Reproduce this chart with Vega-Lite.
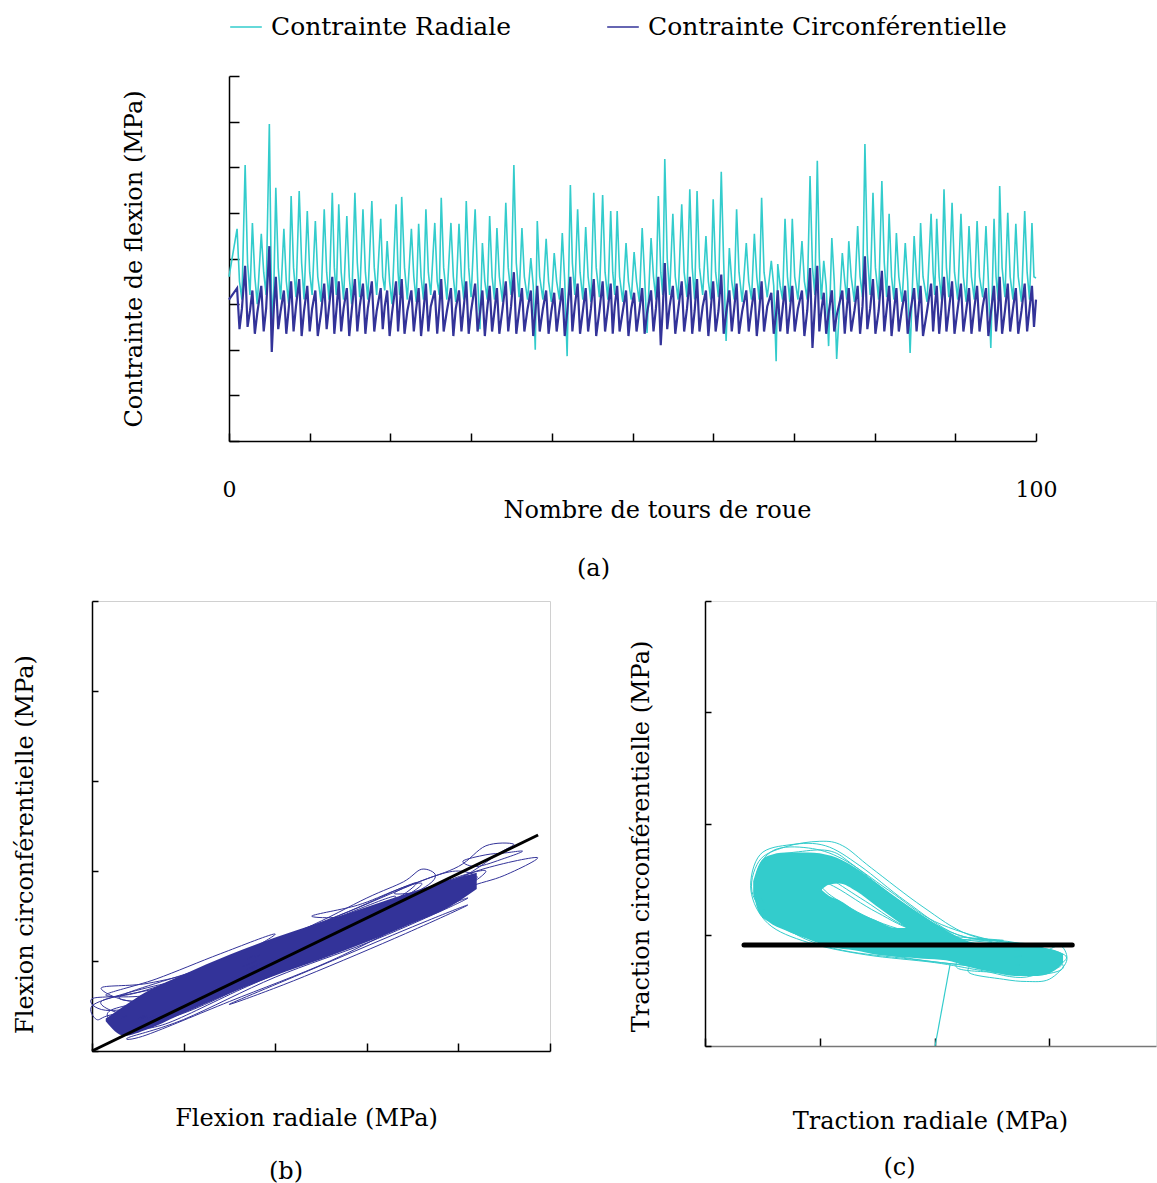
{
  "$schema": "https://vega.github.io/schema/vega-lite/v6.json",
  "padding": {"left": 12, "top": 10, "right": 0, "bottom": 0},
  "spacing": 18,
  "resolve": {"scale": {"x": "independent", "y": "independent", "color": "independent"}, "legend": {"color": "independent"}},
  "config": {
    "font": "DejaVu Serif",
    "view": {"stroke": null},
    "axis": {"labelFont": "DejaVu Serif", "titleFont": "DejaVu Serif", "titleFontWeight": "normal", "titleFontSize": 24, "labelFontSize": 22, "labelColor": "#000", "titleColor": "#000", "domainColor": "#000", "tickColor": "#000", "grid": false, "domainWidth": 1.5, "tickWidth": 1.5},
    "title": {"font": "DejaVu Serif", "fontSize": 24, "fontWeight": "normal", "color": "#000", "anchor": "middle"}
  },
  "vconcat": [
    {
      "spacing": 20,
      "resolve": {"scale": {"color": "independent"}, "legend": {"color": "independent"}},
      "hconcat": [
        {"width": 10, "height": 10, "data": {"values": [{}]}, "mark": {"type": "rule", "opacity": 0}, "encoding": {}},
        {
          "width": 807, "height": 365,
          "title": {"text": "(a)", "orient": "bottom", "offset": 35, "dx": -39},
          "data": {"values": [
{"t":0,"r":3.6,"c":3.1},
{"t":1.0,"r":4.65,"c":3.35},{"t":1.3,"r":3.5,"c":2.45},{"t":1.6,"r":3.1,"c":2.9},
{"t":2.0,"r":6.05,"c":3.84},{"t":2.3,"r":3.9,"c":2.5},{"t":2.6,"r":3.2,"c":2.85},
{"t":2.9,"r":4.78,"c":3.3},{"t":3.2,"r":3.6,"c":2.35},{"t":3.5,"r":3.0,"c":2.8},
{"t":4.0,"r":4.54,"c":3.4},{"t":4.3,"r":3.7,"c":2.4},{"t":4.6,"r":3.2,"c":2.9},
{"t":5.0,"r":6.95,"c":4.27},{"t":5.3,"r":2.6,"c":1.95},{"t":5.55,"r":3.3,"c":2.9},
{"t":5.8,"r":5.55,"c":3.6},{"t":6.1,"r":3.8,"c":2.45},{"t":6.4,"r":3.1,"c":2.85},
{"t":6.8,"r":4.65,"c":3.3},{"t":7.1,"r":3.5,"c":2.35},{"t":7.4,"r":3.0,"c":2.9},
{"t":7.7,"r":5.37,"c":3.5},{"t":8.0,"r":3.8,"c":2.4},{"t":8.3,"r":3.15,"c":2.95},
{"t":8.7,"r":5.48,"c":3.55},{"t":9.0,"r":3.9,"c":2.3},{"t":9.3,"r":3.1,"c":2.85},
{"t":9.7,"r":5.04,"c":3.4},{"t":10.0,"r":3.7,"c":2.4},{"t":10.3,"r":3.2,"c":2.9},
{"t":10.7,"r":4.82,"c":3.3},{"t":11.0,"r":3.6,"c":2.3},{"t":11.4,"r":3.05,"c":2.8},
{"t":11.8,"r":5.08,"c":3.45},{"t":12.1,"r":3.7,"c":2.45},{"t":12.4,"r":3.1,"c":2.95},
{"t":12.8,"r":5.44,"c":3.6},{"t":13.05,"r":3.8,"c":2.35},{"t":13.3,"r":3.2,"c":2.85},
{"t":13.6,"r":5.19,"c":3.5},{"t":13.9,"r":3.7,"c":2.4},{"t":14.2,"r":3.1,"c":2.9},
{"t":14.6,"r":4.93,"c":3.35},{"t":14.9,"r":3.6,"c":2.3},{"t":15.2,"r":3.0,"c":2.85},
{"t":15.6,"r":5.44,"c":3.55},{"t":15.9,"r":3.9,"c":2.4},{"t":16.2,"r":3.15,"c":2.95},
{"t":16.6,"r":5.08,"c":3.45},{"t":16.9,"r":3.7,"c":2.35},{"t":17.2,"r":3.1,"c":2.9},
{"t":17.7,"r":5.26,"c":3.5},{"t":18.0,"r":3.8,"c":2.4},{"t":18.3,"r":3.2,"c":2.85},
{"t":18.8,"r":4.87,"c":3.35},{"t":19.05,"r":3.6,"c":2.45},{"t":19.3,"r":3.3,"c":2.95},
{"t":19.6,"r":4.38,"c":3.3},{"t":19.9,"r":3.5,"c":2.3},{"t":20.2,"r":3.0,"c":2.8},
{"t":20.7,"r":5.19,"c":3.5},{"t":20.95,"r":3.7,"c":2.4},{"t":21.15,"r":3.2,"c":2.9},
{"t":21.4,"r":5.35,"c":3.55},{"t":21.75,"r":3.8,"c":2.35},{"t":22.1,"r":3.1,"c":2.85},
{"t":22.6,"r":4.65,"c":3.3},{"t":22.9,"r":3.6,"c":2.4},{"t":23.2,"r":3.05,"c":2.9},
{"t":23.5,"r":4.76,"c":3.35},{"t":23.8,"r":3.6,"c":2.3},{"t":24.1,"r":3.1,"c":2.85},
{"t":24.4,"r":5.08,"c":3.45},{"t":24.7,"r":3.7,"c":2.4},{"t":25.0,"r":3.2,"c":2.95},
{"t":25.5,"r":4.78,"c":3.3},{"t":25.8,"r":3.5,"c":2.35},{"t":26.05,"r":3.2,"c":2.9},
{"t":26.3,"r":5.33,"c":3.55},{"t":26.6,"r":3.8,"c":2.4},{"t":27.0,"r":3.1,"c":2.85},
{"t":27.5,"r":4.78,"c":3.35},{"t":27.8,"r":3.6,"c":2.3},{"t":28.1,"r":3.05,"c":2.9},
{"t":28.5,"r":4.76,"c":3.3},{"t":28.8,"r":3.6,"c":2.4},{"t":29.1,"r":3.1,"c":2.95},
{"t":29.4,"r":5.26,"c":3.5},{"t":29.7,"r":3.8,"c":2.35},{"t":30.0,"r":3.15,"c":2.85},
{"t":30.5,"r":5.08,"c":3.45},{"t":30.8,"r":3.6,"c":2.4},{"t":31.1,"r":2.45,"c":2.8},
{"t":31.4,"r":4.34,"c":3.3},{"t":31.7,"r":3.5,"c":2.3},{"t":32.0,"r":3.1,"c":2.9},
{"t":32.3,"r":4.93,"c":3.4},{"t":32.6,"r":3.6,"c":2.4},{"t":32.9,"r":3.1,"c":2.85},
{"t":33.2,"r":4.67,"c":3.35},{"t":33.5,"r":3.6,"c":2.35},{"t":33.9,"r":3.05,"c":2.9},
{"t":34.3,"r":5.22,"c":3.5},{"t":34.6,"r":3.8,"c":2.4},{"t":34.95,"r":3.2,"c":2.95},
{"t":35.3,"r":6.05,"c":3.7},{"t":35.6,"r":3.9,"c":2.35},{"t":35.95,"r":3.15,"c":2.85},
{"t":36.3,"r":4.67,"c":3.35},{"t":36.6,"r":3.6,"c":2.4},{"t":37.0,"r":3.1,"c":2.9},
{"t":37.4,"r":4.01,"c":3.3},{"t":37.7,"r":3.4,"c":2.3},{"t":37.95,"r":2.0,"c":2.8},
{"t":38.2,"r":4.82,"c":3.4},{"t":38.5,"r":3.6,"c":2.4},{"t":38.9,"r":3.1,"c":2.9},
{"t":39.3,"r":4.43,"c":3.3},{"t":39.6,"r":3.5,"c":2.35},{"t":39.95,"r":3.05,"c":2.85},
{"t":40.3,"r":4.12,"c":3.25},{"t":40.6,"r":3.5,"c":2.4},{"t":40.95,"r":3.1,"c":2.9},
{"t":41.3,"r":4.56,"c":3.35},{"t":41.6,"r":3.5,"c":2.3},{"t":41.9,"r":1.86,"c":2.8},
{"t":42.3,"r":5.61,"c":3.6},{"t":42.55,"r":3.9,"c":2.4},{"t":42.85,"r":3.2,"c":2.95},
{"t":43.2,"r":5.08,"c":3.45},{"t":43.5,"r":3.7,"c":2.35},{"t":43.85,"r":3.1,"c":2.85},
{"t":44.2,"r":4.69,"c":3.35},{"t":44.5,"r":3.6,"c":2.4},{"t":44.85,"r":3.05,"c":2.9},
{"t":45.2,"r":5.44,"c":3.55},{"t":45.5,"r":3.8,"c":2.3},{"t":45.9,"r":3.15,"c":2.85},
{"t":46.3,"r":5.39,"c":3.5},{"t":46.6,"r":3.7,"c":2.4},{"t":46.95,"r":3.1,"c":2.9},
{"t":47.3,"r":5.04,"c":3.45},{"t":47.55,"r":3.7,"c":2.35},{"t":47.8,"r":3.2,"c":2.95},
{"t":48.1,"r":5.04,"c":3.4},{"t":48.4,"r":3.6,"c":2.4},{"t":48.8,"r":3.05,"c":2.85},
{"t":49.2,"r":4.34,"c":3.3},{"t":49.5,"r":3.5,"c":2.3},{"t":49.85,"r":3.1,"c":2.9},
{"t":50.2,"r":4.14,"c":3.25},{"t":50.5,"r":3.5,"c":2.4},{"t":50.85,"r":3.05,"c":2.85},
{"t":51.2,"r":4.67,"c":3.35},{"t":51.5,"r":3.6,"c":2.35},{"t":51.8,"r":2.37,"c":2.8},
{"t":52.3,"r":4.45,"c":3.3},{"t":52.6,"r":3.6,"c":2.4},{"t":52.9,"r":3.1,"c":2.9},
{"t":53.2,"r":5.37,"c":3.6},{"t":53.5,"r":3.7,"c":2.1},{"t":53.75,"r":3.2,"c":2.9},
{"t":54.0,"r":6.18,"c":3.9},{"t":54.3,"r":4.0,"c":2.45},{"t":54.6,"r":3.2,"c":2.95},
{"t":55.0,"r":4.98,"c":3.4},{"t":55.3,"r":3.6,"c":2.35},{"t":55.65,"r":3.1,"c":2.85},
{"t":56.1,"r":5.19,"c":3.5},{"t":56.4,"r":3.7,"c":2.4},{"t":56.75,"r":3.15,"c":2.9},
{"t":57.1,"r":5.52,"c":3.6},{"t":57.4,"r":3.8,"c":2.35},{"t":57.7,"r":3.1,"c":2.85},
{"t":58.0,"r":5.48,"c":3.55},{"t":58.3,"r":3.8,"c":2.4},{"t":58.7,"r":3.2,"c":2.95},
{"t":59.1,"r":4.49,"c":3.3},{"t":59.4,"r":3.5,"c":2.3},{"t":59.7,"r":3.1,"c":2.9},
{"t":60.0,"r":5.3,"c":3.5},{"t":60.3,"r":3.7,"c":2.4},{"t":60.65,"r":3.15,"c":2.85},
{"t":61.0,"r":5.9,"c":3.65},{"t":61.3,"r":3.9,"c":2.35},{"t":61.6,"r":2.19,"c":2.8},
{"t":62.0,"r":4.23,"c":3.3},{"t":62.3,"r":3.5,"c":2.4},{"t":62.6,"r":3.1,"c":2.9},
{"t":62.9,"r":5.08,"c":3.45},{"t":63.2,"r":3.7,"c":2.35},{"t":63.6,"r":3.05,"c":2.85},
{"t":64.1,"r":4.34,"c":3.3},{"t":64.4,"r":3.5,"c":2.4},{"t":64.75,"r":3.1,"c":2.9},
{"t":65.1,"r":4.54,"c":3.35},{"t":65.4,"r":3.6,"c":2.3},{"t":65.7,"r":3.1,"c":2.85},
{"t":66.0,"r":5.33,"c":3.5},{"t":66.3,"r":3.7,"c":2.4},{"t":66.7,"r":3.15,"c":2.95},
{"t":67.2,"r":3.95,"c":3.25},{"t":67.5,"r":3.4,"c":2.35},{"t":67.8,"r":1.75,"c":2.8},
{"t":68.0,"r":3.88,"c":3.3},{"t":68.3,"r":3.4,"c":2.4},{"t":68.6,"r":3.1,"c":2.9},
{"t":68.9,"r":4.87,"c":3.4},{"t":69.2,"r":3.6,"c":2.35},{"t":69.5,"r":3.05,"c":2.85},
{"t":69.8,"r":4.87,"c":3.4},{"t":70.1,"r":3.6,"c":2.4},{"t":70.5,"r":3.1,"c":2.9},
{"t":71.0,"r":4.38,"c":3.3},{"t":71.3,"r":3.5,"c":2.3},{"t":71.65,"r":3.1,"c":2.85},
{"t":72.0,"r":5.81,"c":3.79},{"t":72.3,"r":3.8,"c":2.04},{"t":72.6,"r":3.2,"c":2.95},
{"t":72.9,"r":6.14,"c":3.84},{"t":73.15,"r":4.0,"c":2.4},{"t":73.4,"r":3.1,"c":2.85},
{"t":73.7,"r":3.95,"c":3.25},{"t":74.0,"r":3.4,"c":2.35},{"t":74.3,"r":2.08,"c":2.8},
{"t":74.7,"r":4.45,"c":3.3},{"t":75.0,"r":3.5,"c":2.4},{"t":75.3,"r":1.8,"c":2.75},
{"t":76.0,"r":4.12,"c":3.3},{"t":76.3,"r":3.5,"c":2.35},{"t":76.55,"r":3.1,"c":2.9},
{"t":76.8,"r":4.38,"c":3.35},{"t":77.1,"r":3.6,"c":2.4},{"t":77.5,"r":3.05,"c":2.85},
{"t":77.9,"r":4.71,"c":3.4},{"t":78.2,"r":3.6,"c":2.35},{"t":78.5,"r":3.15,"c":2.95},
{"t":78.8,"r":6.51,"c":4.05},{"t":79.1,"r":4.1,"c":2.45},{"t":79.45,"r":3.2,"c":2.9},
{"t":79.8,"r":5.44,"c":3.55},{"t":80.1,"r":3.8,"c":2.35},{"t":80.5,"r":3.1,"c":2.85},
{"t":80.9,"r":5.7,"c":3.73},{"t":81.2,"r":3.9,"c":2.4},{"t":81.5,"r":3.15,"c":2.9},
{"t":81.8,"r":4.98,"c":3.4},{"t":82.1,"r":3.6,"c":2.3},{"t":82.4,"r":3.1,"c":2.85},
{"t":82.7,"r":4.56,"c":3.35},{"t":83.0,"r":3.6,"c":2.4},{"t":83.4,"r":3.05,"c":2.9},
{"t":83.8,"r":4.34,"c":3.3},{"t":84.1,"r":3.5,"c":2.35},{"t":84.4,"r":1.93,"c":2.8},
{"t":84.9,"r":4.49,"c":3.35},{"t":85.2,"r":3.6,"c":2.4},{"t":85.45,"r":3.1,"c":2.9},
{"t":85.7,"r":4.78,"c":3.4},{"t":86.0,"r":3.6,"c":2.3},{"t":86.5,"r":3.05,"c":2.85},
{"t":87.0,"r":4.98,"c":3.45},{"t":87.25,"r":3.7,"c":2.4},{"t":87.45,"r":3.2,"c":2.9},
{"t":87.7,"r":4.87,"c":3.4},{"t":88.0,"r":3.6,"c":2.35},{"t":88.3,"r":3.1,"c":2.95},
{"t":88.6,"r":5.52,"c":3.6},{"t":88.9,"r":3.8,"c":2.4},{"t":89.2,"r":3.15,"c":2.85},
{"t":89.6,"r":5.22,"c":3.5},{"t":89.9,"r":3.7,"c":2.35},{"t":90.3,"r":3.1,"c":2.9},
{"t":90.7,"r":4.98,"c":3.45},{"t":91.0,"r":3.6,"c":2.4},{"t":91.35,"r":3.05,"c":2.85},
{"t":91.7,"r":4.71,"c":3.35},{"t":92.0,"r":3.6,"c":2.35},{"t":92.35,"r":3.1,"c":2.9},
{"t":92.7,"r":4.82,"c":3.4},{"t":93.0,"r":3.6,"c":2.4},{"t":93.4,"r":3.15,"c":2.95},
{"t":93.8,"r":4.71,"c":3.35},{"t":94.1,"r":3.5,"c":2.3},{"t":94.4,"r":2.04,"c":2.8},
{"t":94.8,"r":4.87,"c":3.4},{"t":95.05,"r":3.6,"c":2.4},{"t":95.3,"r":3.1,"c":2.9},
{"t":95.5,"r":5.59,"c":3.6},{"t":95.8,"r":3.8,"c":2.35},{"t":96.15,"r":3.15,"c":2.85},
{"t":96.5,"r":5.0,"c":3.45},{"t":96.8,"r":3.6,"c":2.4},{"t":97.15,"r":3.1,"c":2.9},
{"t":97.5,"r":4.76,"c":3.35},{"t":97.8,"r":3.6,"c":2.35},{"t":98.2,"r":3.05,"c":2.85},
{"t":98.6,"r":5.04,"c":3.45},{"t":98.9,"r":3.7,"c":2.4},{"t":99.2,"r":3.1,"c":2.9},
{"t":99.5,"r":4.78,"c":3.4},{"t":99.75,"r":3.6,"c":2.5},{"t":100,"r":3.57,"c":3.1}
          ]},
          "encoding": {
            "x": {"field": "t", "type": "quantitative", "scale": {"domain": [0, 100], "nice": false},
              "axis": {"values": [0,10,20,30,40,50,60,70,80,90,100], "labelExpr": "datum.value == 0 || datum.value == 100 ? datum.label : ''", "tickSize": -8, "labelPadding": 46, "labelFlush": false, "title": "Nombre de tours de roue", "titlePadding": -2, "titleX": 428}}
          },
          "layer": [
            {"mark": {"type": "line", "strokeWidth": 1.6},
             "encoding": {
               "y": {"field": "r", "type": "quantitative", "scale": {"domain": [0, 8], "nice": false},
                 "axis": {"values": [0,1,2,3,4,5,6,7,8], "labels": false, "tickSize": -10, "title": "Contrainte de flexion (MPa)", "titlePadding": 82}},
               "color": {"datum": "Contrainte Radiale", "type": "nominal",
                 "scale": {"domain": ["Contrainte Radiale", "Contrainte Circonférentielle"], "range": ["#33CCCC", "#333399"]},
                 "legend": {"orient": "top", "direction": "horizontal", "title": null, "symbolType": "stroke", "symbolSize": 1000, "symbolStrokeWidth": 1.5, "labelFontSize": 25, "labelFont": "DejaVu Serif", "labelColor": "#000", "labelLimit": 0, "columnPadding": 92, "labelOffset": 8, "offset": 36}}
             }},
            {"mark": {"type": "line", "strokeWidth": 2.2},
             "encoding": {
               "y": {"field": "c", "type": "quantitative"},
               "color": {"datum": "Contrainte Circonférentielle", "type": "nominal"}
             }}
          ]
        }
      ]
    },
    {
      "spacing": 76,
      "resolve": {"scale": {"x": "independent", "y": "independent"}},
      "hconcat": [
        {
          "width": 458, "height": 450,
          "view": {"stroke": "#d0d0d0"},
          "title": {"text": "(b)", "orient": "bottom", "offset": 29, "dx": -35},
          "layer": [
            {"data": {"values": [
              {"x":0.15,"lo":0.33,"hi":0.36},{"x":0.35,"lo":0.17,"hi":0.5},{"x":0.6,"lo":0.24,"hi":0.66},{"x":1.0,"lo":0.42,"hi":0.85},
              {"x":1.5,"lo":0.64,"hi":1.07},{"x":2.0,"lo":0.84,"hi":1.26},{"x":2.5,"lo":1.02,"hi":1.43},
              {"x":3.0,"lo":1.21,"hi":1.6},{"x":3.5,"lo":1.42,"hi":1.77},{"x":3.9,"lo":1.6,"hi":1.9},{"x":4.2,"lo":1.8,"hi":1.98}
             ]},
             "mark": {"type": "area", "orient": "vertical", "color": "#333399", "interpolate": "monotone"},
             "encoding": {
               "x": {"field": "x", "type": "quantitative", "scale": {"domain": [0, 5], "nice": false},
                 "axis": {"values": [0,1,2,3,4,5], "labels": false, "tickSize": -8, "title": "Flexion radiale (MPa)", "titlePadding": 55, "titleX": 214}},
               "y": {"field": "lo", "type": "quantitative", "scale": {"domain": [0, 5], "nice": false},
                 "axis": {"values": [0,1,2,3,4,5], "labels": false, "tickSize": -6, "title": "Flexion circonférentielle (MPa)", "titlePadding": 54, "titleY": 243}},
               "y2": {"field": "hi"}
             }},
            {"data": {"values": [
              {"id":1,"x":0.2,"y":0.45},{"id":1,"x":0.8,"y":0.62},{"id":1,"x":1.6,"y":0.98},{"id":1,"x":2.3,"y":1.3},{"id":1,"x":2.6,"y":1.38},{"id":1,"x":2.4,"y":1.2},{"id":1,"x":1.6,"y":0.85},{"id":1,"x":0.8,"y":0.48},{"id":1,"x":0.3,"y":0.32},
              {"id":2,"x":0.1,"y":0.55},{"id":2,"x":0.9,"y":0.75},{"id":2,"x":1.8,"y":1.15},{"id":2,"x":2.8,"y":1.55},{"id":2,"x":3.4,"y":1.82},{"id":2,"x":3.6,"y":1.85},{"id":2,"x":3.3,"y":1.65},{"id":2,"x":2.5,"y":1.25},{"id":2,"x":1.5,"y":0.8},{"id":2,"x":0.6,"y":0.4},
              {"id":3,"x":0.4,"y":0.5},{"id":3,"x":1.4,"y":0.98},{"id":3,"x":2.5,"y":1.42},{"id":3,"x":3.5,"y":1.85},{"id":3,"x":4.0,"y":2.05},{"id":3,"x":4.3,"y":2.28},{"id":3,"x":4.6,"y":2.3},{"id":3,"x":4.45,"y":2.2},{"id":3,"x":3.9,"y":1.85},{"id":3,"x":2.9,"y":1.42},{"id":3,"x":1.8,"y":0.95},{"id":3,"x":0.8,"y":0.45},
              {"id":4,"x":0.2,"y":0.3},{"id":4,"x":1.2,"y":0.75},{"id":4,"x":2.4,"y":1.25},{"id":4,"x":3.5,"y":1.7},{"id":4,"x":4.2,"y":2.0},{"id":4,"x":4.86,"y":2.15},{"id":4,"x":4.5,"y":1.95},{"id":4,"x":4.05,"y":1.8},{"id":4,"x":3.2,"y":1.45},{"id":4,"x":2.0,"y":0.95},{"id":4,"x":0.9,"y":0.45},
              {"id":5,"x":0.3,"y":0.6},{"id":5,"x":1.3,"y":0.95},{"id":5,"x":2.3,"y":1.35},{"id":5,"x":3.0,"y":1.7},{"id":5,"x":3.4,"y":1.88},{"id":5,"x":3.6,"y":2.02},{"id":5,"x":3.75,"y":1.95},{"id":5,"x":3.6,"y":1.8},{"id":5,"x":3.0,"y":1.5},{"id":5,"x":2.0,"y":1.05},{"id":5,"x":1.0,"y":0.6},
              {"id":6,"x":0.0,"y":0.5},{"id":6,"x":0.3,"y":0.62},{"id":6,"x":0.8,"y":0.75},{"id":6,"x":1.3,"y":0.85},{"id":6,"x":1.6,"y":0.88},{"id":6,"x":1.2,"y":0.7},{"id":6,"x":0.7,"y":0.5},{"id":6,"x":0.2,"y":0.4},{"id":6,"x":0.05,"y":0.35},
              {"id":7,"x":0.1,"y":0.7},{"id":7,"x":0.6,"y":0.75},{"id":7,"x":1.2,"y":0.9},{"id":7,"x":2.0,"y":1.2},{"id":7,"x":2.3,"y":1.28},{"id":7,"x":1.9,"y":1.1},{"id":7,"x":1.2,"y":0.75},{"id":7,"x":0.5,"y":0.55},
              {"id":8,"x":0.4,"y":0.15},{"id":8,"x":1.0,"y":0.35},{"id":8,"x":2.0,"y":0.82},{"id":8,"x":3.0,"y":1.2},{"id":8,"x":3.8,"y":1.55},{"id":8,"x":4.1,"y":1.7},{"id":8,"x":3.6,"y":1.5},{"id":8,"x":2.6,"y":1.0},{"id":8,"x":1.5,"y":0.55},{"id":8,"x":0.6,"y":0.18},
              {"id":9,"x":0.3,"y":0.25},{"id":9,"x":1.1,"y":0.6},{"id":9,"x":2.1,"y":1.1},{"id":9,"x":3.1,"y":1.55},{"id":9,"x":3.9,"y":1.9},{"id":9,"x":4.3,"y":2.0},{"id":9,"x":3.95,"y":1.75},{"id":9,"x":3.0,"y":1.3},{"id":9,"x":2.0,"y":0.88},{"id":9,"x":1.0,"y":0.42},
              {"id":10,"x":0.0,"y":0.58},{"id":10,"x":0.5,"y":0.65},{"id":10,"x":1.5,"y":1.0},{"id":10,"x":2.6,"y":1.45},{"id":10,"x":3.3,"y":1.72},{"id":10,"x":3.0,"y":1.5},{"id":10,"x":2.1,"y":1.1},{"id":10,"x":1.0,"y":0.6},{"id":10,"x":0.2,"y":0.45},
              {"id":11,"x":4.05,"y":2.11},{"id":11,"x":4.3,"y":2.18},{"id":11,"x":4.5,"y":2.2},{"id":11,"x":4.7,"y":2.22},{"id":11,"x":4.5,"y":2.14},{"id":11,"x":4.2,"y":2.05},
              {"id":12,"x":0.5,"y":0.3},{"id":12,"x":1.5,"y":0.8},{"id":12,"x":2.5,"y":1.22},{"id":12,"x":3.4,"y":1.6},{"id":12,"x":3.9,"y":1.85},{"id":12,"x":3.6,"y":1.6},{"id":12,"x":2.8,"y":1.2},{"id":12,"x":1.7,"y":0.72},{"id":12,"x":0.8,"y":0.3},
              {"id":13,"x":2.4,"y":1.5},{"id":13,"x":2.9,"y":1.62},{"id":13,"x":3.3,"y":1.78},{"id":13,"x":3.55,"y":1.87},{"id":13,"x":3.3,"y":1.68},{"id":13,"x":2.8,"y":1.5},
              {"id":14,"x":0.15,"y":0.62},{"id":14,"x":0.7,"y":0.8},{"id":14,"x":1.4,"y":1.08},{"id":14,"x":2.0,"y":1.3},{"id":14,"x":1.5,"y":1.0},{"id":14,"x":0.8,"y":0.65},
              {"id":15,"x":1.5,"y":0.52},{"id":15,"x":2.5,"y":0.95},{"id":15,"x":3.5,"y":1.38},{"id":15,"x":4.1,"y":1.62},{"id":15,"x":3.3,"y":1.25},{"id":15,"x":2.2,"y":0.78},
              {"id":16,"x":3.3,"y":1.75},{"id":16,"x":3.7,"y":1.93},{"id":16,"x":4.0,"y":2.0},{"id":16,"x":4.2,"y":1.92},{"id":16,"x":3.8,"y":1.8}
             ]},
             "mark": {"type": "line", "interpolate": "cardinal-closed", "strokeWidth": 1, "color": "#333399"},
             "encoding": {
               "x": {"field": "x", "type": "quantitative"},
               "y": {"field": "y", "type": "quantitative"},
               "detail": {"field": "id", "type": "nominal"},
               "order": {"value": null}
             }},
            {"data": {"values": [{"x":0,"y":0},{"x":4.87,"y":2.4}]},
             "mark": {"type": "line", "color": "#000", "strokeWidth": 3},
             "encoding": {"x": {"field": "x", "type": "quantitative"}, "y": {"field": "y", "type": "quantitative"}}}
          ]
        },
        {
          "width": 451, "height": 445,
          "view": {"stroke": "#e0e0e0"},
          "title": {"text": "(c)", "orient": "bottom", "offset": 22, "dx": -31},
          "layer": [
            {"data": {"values": [
              {"x":0.42,"lo":1.37,"hi":1.48},{"x":0.47,"lo":1.2,"hi":1.63},{"x":0.55,"lo":1.12,"hi":1.71},{"x":0.7,"lo":1.04,"hi":1.74},
              {"x":0.9,"lo":0.96,"hi":1.74},{"x":1.1,"lo":0.89,"hi":1.71},{"x":1.3,"lo":0.86,"hi":1.61},{"x":1.5,"lo":0.82,"hi":1.46},
              {"x":1.7,"lo":0.8,"hi":1.31},{"x":1.9,"lo":0.785,"hi":1.17},{"x":2.1,"lo":0.77,"hi":1.04},{"x":2.3,"lo":0.71,"hi":0.94},
              {"x":2.5,"lo":0.665,"hi":0.91},{"x":2.7,"lo":0.63,"hi":0.9},{"x":2.9,"lo":0.63,"hi":0.89},{"x":3.05,"lo":0.68,"hi":0.86},{"x":3.12,"lo":0.75,"hi":0.83}
             ]},
             "mark": {"type": "area", "orient": "vertical", "color": "#33CCCC", "interpolate": "monotone"},
             "encoding": {
               "x": {"field": "x", "type": "quantitative", "scale": {"domain": [0, 3.93], "nice": false},
                 "axis": {"values": [0,1,2,3], "labels": false, "tickSize": -8, "domainColor": "#777", "title": "Traction radiale (MPa)", "titlePadding": 63, "titleX": 225}},
               "y": {"field": "lo", "type": "quantitative", "scale": {"domain": [0, 4], "nice": false},
                 "axis": {"values": [0,1,2,3,4], "labels": false, "tickSize": -6, "title": "Traction circonférentielle (MPa)", "titlePadding": 51, "titleY": 235}},
               "y2": {"field": "hi"}
             }},
            {"data": {"values": [
              {"x":1.02,"lo":1.4,"hi":1.41},{"x":1.08,"lo":1.35,"hi":1.45},{"x":1.17,"lo":1.31,"hi":1.46},{"x":1.32,"lo":1.21,"hi":1.39},
              {"x":1.49,"lo":1.13,"hi":1.26},{"x":1.665,"lo":1.06,"hi":1.13},{"x":1.75,"lo":1.06,"hi":1.065}
             ]},
             "mark": {"type": "area", "orient": "vertical", "color": "#ffffff", "interpolate": "monotone"},
             "encoding": {"x": {"field": "x", "type": "quantitative"}, "y": {"field": "lo", "type": "quantitative"}, "y2": {"field": "hi"}}},
            {"data": {"values": [
              {"id":1,"x":3.15,"y":0.8},{"id":1,"x":2.8,"y":0.62},{"id":1,"x":2.4,"y":0.68},{"id":1,"x":2.0,"y":0.75},{"id":1,"x":1.4,"y":0.82},{"id":1,"x":0.9,"y":0.93},{"id":1,"x":0.55,"y":1.1},{"id":1,"x":0.4,"y":1.4},{"id":1,"x":0.48,"y":1.72},{"id":1,"x":0.75,"y":1.81},{"id":1,"x":1.05,"y":1.8},{"id":1,"x":1.35,"y":1.62},{"id":1,"x":1.75,"y":1.3},{"id":1,"x":2.2,"y":1.0},{"id":1,"x":2.7,"y":0.93},
              {"id":2,"x":3.1,"y":0.72},{"id":2,"x":2.7,"y":0.66},{"id":2,"x":2.3,"y":0.72},{"id":2,"x":1.8,"y":0.78},{"id":2,"x":1.2,"y":0.86},{"id":2,"x":0.8,"y":1.0},{"id":2,"x":0.5,"y":1.25},{"id":2,"x":0.45,"y":1.55},{"id":2,"x":0.6,"y":1.76},{"id":2,"x":0.9,"y":1.78},{"id":2,"x":1.2,"y":1.68},{"id":2,"x":1.6,"y":1.4},{"id":2,"x":2.0,"y":1.12},{"id":2,"x":2.5,"y":0.95},{"id":2,"x":2.9,"y":0.9},
              {"id":3,"x":3.0,"y":0.85},{"id":3,"x":2.6,"y":0.78},{"id":3,"x":2.1,"y":0.8},{"id":3,"x":1.5,"y":0.86},{"id":3,"x":1.0,"y":1.0},{"id":3,"x":0.6,"y":1.2},{"id":3,"x":0.45,"y":1.45},{"id":3,"x":0.55,"y":1.68},{"id":3,"x":0.85,"y":1.75},{"id":3,"x":1.1,"y":1.75},{"id":3,"x":1.3,"y":1.62},{"id":3,"x":1.7,"y":1.3},{"id":3,"x":2.15,"y":1.02},{"id":3,"x":2.6,"y":0.92},
              {"id":4,"x":2.8,"y":0.9},{"id":4,"x":2.2,"y":0.85},{"id":4,"x":1.6,"y":0.95},{"id":4,"x":1.1,"y":1.15},{"id":4,"x":0.8,"y":1.35},{"id":4,"x":0.75,"y":1.55},{"id":4,"x":0.95,"y":1.6},{"id":4,"x":1.1,"y":1.5},{"id":4,"x":1.4,"y":1.3},{"id":4,"x":1.8,"y":1.05},{"id":4,"x":2.3,"y":0.95},
              {"id":5,"x":2.6,"y":0.95},{"id":5,"x":2.0,"y":0.98},{"id":5,"x":1.5,"y":1.12},{"id":5,"x":1.1,"y":1.35},{"id":5,"x":1.0,"y":1.48},{"id":5,"x":1.15,"y":1.42},{"id":5,"x":1.5,"y":1.2},{"id":5,"x":1.9,"y":1.02},
              {"id":6,"x":3.05,"y":0.78},{"id":6,"x":2.5,"y":0.72},{"id":6,"x":1.9,"y":0.77},{"id":6,"x":1.2,"y":0.9},{"id":6,"x":0.7,"y":1.05},{"id":6,"x":0.42,"y":1.35},{"id":6,"x":0.47,"y":1.66},{"id":6,"x":0.7,"y":1.79},{"id":6,"x":1.0,"y":1.84},{"id":6,"x":1.2,"y":1.8},{"id":6,"x":1.45,"y":1.6},{"id":6,"x":1.9,"y":1.25},{"id":6,"x":2.3,"y":1.0},{"id":6,"x":2.8,"y":0.9},
              {"id":7,"x":3.15,"y":0.76},{"id":7,"x":3.0,"y":0.6},{"id":7,"x":2.8,"y":0.58},{"id":7,"x":2.6,"y":0.6},{"id":7,"x":2.3,"y":0.66},{"id":7,"x":2.4,"y":0.78},{"id":7,"x":2.7,"y":0.8},{"id":7,"x":2.95,"y":0.85},{"id":7,"x":3.1,"y":0.9},
              {"id":8,"x":3.12,"y":0.7},{"id":8,"x":2.9,"y":0.64},{"id":8,"x":2.55,"y":0.66},{"id":8,"x":2.2,"y":0.7},{"id":8,"x":2.3,"y":0.83},{"id":8,"x":2.7,"y":0.86},{"id":8,"x":3.0,"y":0.83}
             ]},
             "mark": {"type": "line", "interpolate": "cardinal-closed", "strokeWidth": 1, "color": "#33CCCC"},
             "encoding": {
               "x": {"field": "x", "type": "quantitative"},
               "y": {"field": "y", "type": "quantitative"},
               "detail": {"field": "id", "type": "nominal"},
               "order": {"value": null}
             }},
            {"data": {"values": [{"x":2.136,"y":0.737},{"x":2.005,"y":0.0}]},
             "mark": {"type": "line", "color": "#33CCCC", "strokeWidth": 1.2},
             "encoding": {"x": {"field": "x", "type": "quantitative"}, "y": {"field": "y", "type": "quantitative"}, "order": {"value": null}}},
            {"data": {"values": [{"x":0.34,"y":0.908},{"x":3.2,"y":0.908}]},
             "mark": {"type": "line", "color": "#000", "strokeWidth": 5, "strokeCap": "round"},
             "encoding": {"x": {"field": "x", "type": "quantitative"}, "y": {"field": "y", "type": "quantitative"}}}
          ]
        }
      ]
    }
  ]
}
